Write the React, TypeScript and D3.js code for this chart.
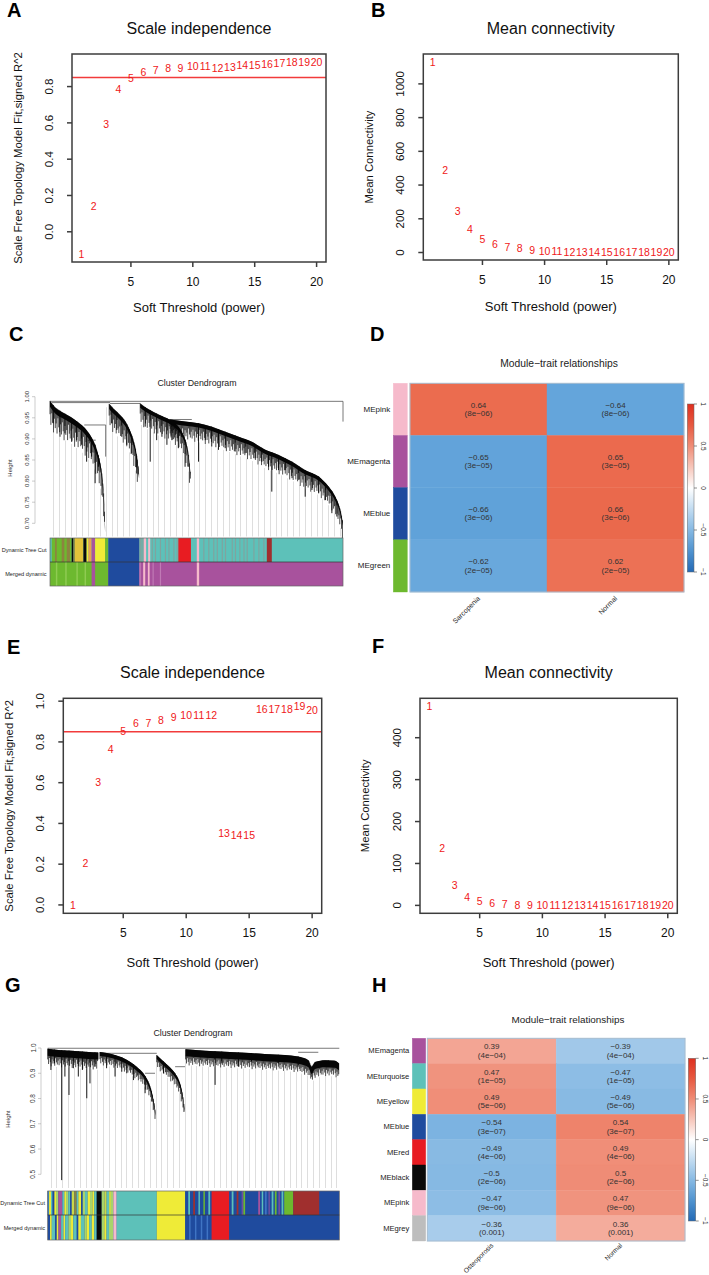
import React from 'react';
import * as d3 from 'd3';

const FONT = '"Liberation Sans", Arial, Helvetica, sans-serif';

// soft-threshold powers tested in both data sets
const powers = [1, 2, 3, 4, 5, 6, 7, 8, 9, 10, 11, 12, 13, 14, 15, 16, 17, 18, 19, 20];

// sarcopenia set
const fitSarco = [-0.124, 0.14, 0.593, 0.787, 0.848, 0.88, 0.89, 0.9, 0.904, 0.913, 0.913, 0.904, 0.91, 0.917, 0.92, 0.926, 0.93, 0.935, 0.937, 0.937];
const connSarco = [1132, 487, 246, 138, 83, 53, 35, 24, 16, 10, 7, 5, 4, 3, 2.5, 2, 1.5, 1.2, 1, 0.8];

// osteoporosis set
const fitOsteo = [-0.002, 0.206, 0.605, 0.765, 0.856, 0.892, 0.895, 0.908, 0.92, 0.93, 0.93, 0.93, 0.351, 0.343, 0.343, 0.96, 0.96, 0.963, 0.975, 0.958];
const connOsteo = [475, 137, 49, 20, 9.6, 5, 3, 2, 1.2, 0.9, 0.7, 0.5, 0.4, 0.35, 0.3, 0.25, 0.2, 0.18, 0.15, 0.12];

const xTicks = [5, 10, 15, 20];
const fitTicksA = [0, 0.2, 0.4, 0.6, 0.8];
const connTicksB = [0, 200, 400, 600, 800, 1000];
const fitTicksE = [0, 0.2, 0.4, 0.6, 0.8, 1.0];
const connTicksF = [0, 100, 200, 300, 400];
const fitCut = 0.85;

const COL: Record<string, string> = {
  turquoise: '#5DC1B9', blue: '#1F4B9E', green: '#6DB92F', yellow: '#EFEB37', gold: '#E3C43A',
  red: '#E81C22', brown: '#A02F2E', pink: '#F6BACB', magenta: '#A8529D', black: '#0A0A0A',
  grey: '#BDBDBD', olive: '#8C8440', orange: '#E9A050', lightgreen: '#A8D46C', lime: '#C9D84A',
  tealgrey: '#7FA49F', bluegreen: '#3E80B3', lightblue: '#3F74C4', purple: '#6F4FA0',
  paleMagenta: '#C07AB5', paleGreen: '#8FCB52',
};

// dendrogram C: spines are [leaf %, height] ; hairs are [leaf %, bottom height]
const dendroSarco = [
  { pts: [[0, 0.99], [1.7, 0.975], [4.0, 0.964], [6.8, 0.953], [9.7, 0.939], [11.7, 0.927], [13.7, 0.909], [15.4, 0.886], [16.8, 0.854], [17.7, 0.818], [18.4, 0.763], [18.8, 0.692]],
    depth: 0.014, fringe: 0.05,
    hairs: [[1.1, 0.937], [3.4, 0.905], [5.1, 0.913], [7.4, 0.893], [9.1, 0.897], [10.8, 0.886], [12.5, 0.846], [14.2, 0.858], [15.4, 0.795], [16.5, 0.834]] },
  { pts: [[20.2, 0.983], [21.6, 0.972], [23.3, 0.961], [25.4, 0.945], [27.0, 0.925], [28.3, 0.901], [29.3, 0.874], [29.9, 0.846], [30.4, 0.818]],
    depth: 0.012, fringe: 0.045,
    hairs: [[21.1, 0.937], [22.8, 0.921], [24.5, 0.905], [26.2, 0.886], [27.9, 0.866], [29.6, 0.818]] },
  { pts: [[30.8, 0.984], [32.5, 0.975], [35.3, 0.964], [38.2, 0.954], [41.0, 0.945], [43.3, 0.933], [45.0, 0.917], [46.4, 0.893], [47.3, 0.862], [47.9, 0.822]],
    depth: 0.01, fringe: 0.04,
    hairs: [[32.5, 0.929], [34.2, 0.846], [36.4, 0.897], [38.2, 0.905], [39.9, 0.886], [41.6, 0.897], [43.8, 0.878], [46.1, 0.834]] },
  { pts: [[41.0, 0.946], [46.1, 0.941], [50.7, 0.937], [55.2, 0.929], [59.8, 0.917], [64.4, 0.905], [68.9, 0.893], [73.5, 0.874], [78.0, 0.862], [82.6, 0.846], [87.1, 0.826], [91.7, 0.811], [95.1, 0.787], [97.4, 0.763], [99.1, 0.732], [99.9, 0.704]],
    depth: 0.01, fringe: 0.035,
    hairs: [[50.7, 0.846], [53.0, 0.897], [55.2, 0.882], [57.5, 0.874], [59.8, 0.878], [63.2, 0.87], [66.6, 0.866], [70.0, 0.854], [72.3, 0.846], [74.6, 0.834], [75.7, 0.775], [78.0, 0.826], [80.3, 0.826], [82.6, 0.807], [84.9, 0.803], [87.1, 0.763], [89.4, 0.779], [91.7, 0.771], [94.0, 0.755], [96.2, 0.724], [97.9, 0.716]] },
];
// merges: [from %, to %, height, left leg bottom, right leg bottom]
const linksSarco = [[0, 100, 0.989, null, 0.941], [0.6, 20.5, 0.986], [20.5, 30.8, 0.984], [40.4, 48.4, 0.946], [11.7, 19.0, 0.933, null, 0.858], [12.9, 15.6, 0.897]];

const dendroOsteo = [
  { pts: [[0, 0.997], [3.7, 0.992], [8.2, 0.989], [12.8, 0.985], [17.4, 0.982]],
    depth: 0.028, fringe: 0.04,
    hairs: [[1.1, 0.913], [2.3, 0.939], [4.8, 0.477], [5.9, 0.887], [7.3, 0.814], [8.8, 0.92], [10.5, 0.887], [11.9, 0.913], [13.4, 0.801], [14.5, 0.86], [16.2, 0.926]] },
  { pts: [[17.9, 0.984], [21.9, 0.976], [25.4, 0.963], [28.2, 0.946], [30.5, 0.926], [32.8, 0.9], [34.5, 0.867], [35.7, 0.827], [36.5, 0.781], [36.9, 0.748]],
    depth: 0.016, fringe: 0.035,
    hairs: [[20.2, 0.92], [23.1, 0.887], [25.4, 0.906], [27.1, 0.9], [29.4, 0.873], [33.4, 0.821]] },
  { pts: [[37.4, 0.972], [39.1, 0.953], [41.4, 0.929], [43.7, 0.9], [45.4, 0.86], [46.3, 0.814], [46.9, 0.761]],
    depth: 0.016, fringe: 0.035,
    hairs: [[39.7, 0.9]] },
  { pts: [[47.3, 0.995], [54.0, 0.989], [60.8, 0.985], [67.7, 0.981], [74.5, 0.976], [81.4, 0.972], [85.9, 0.966], [89.4, 0.952], [90.5, 0.926], [91.7, 0.945], [95.1, 0.952], [98.5, 0.95], [99.9, 0.939]],
    depth: 0.028, fringe: 0.035,
    hairs: [[57.4, 0.854], [59.7, 0.939], [65.4, 0.926], [69.9, 0.946], [79.1, 0.939], [85.9, 0.926], [90.5, 0.9], [96.2, 0.926], [99.1, 0.933]] },
];
const linksOsteo = [[0, 100, 0.999], [17.9, 37.4, 0.979], [33.4, 36.8, 0.9], [43.7, 47.1, 0.926], [85.9, 92.8, 0.983]];

// lengths cycled along each spine for the leaf fringe
const fringeLen = [0.35, 0.8, 0.2, 0.6, 1.0, 0.3, 0.7, 0.45, 0.9, 0.15, 0.55, 0.75];

// module colour rows: [start %, end %, colour]
const treeCutSarco = [
  [0.6, 7.4, 'green'], [1.7, 2.3, 'olive'], [4.0, 4.9, 'olive'], [5.7, 6.8, 'olive'], [7.4, 8.0, 'black'], [8.0, 8.5, 'olive'],
  [8.5, 11.4, 'gold'], [11.4, 12.5, 'black'], [12.5, 13.1, 'yellow'], [13.1, 14.2, 'orange'], [14.2, 15.4, 'magenta'],
  [15.4, 18.8, 'yellow'], [18.8, 19.9, 'green'], [19.9, 30.5, 'blue'], [30.5, 31.3, 'tealgrey'], [31.5, 32.0, 'tealgrey'],
  [32.0, 32.8, 'pink'], [33.5, 34.2, 'pink'], [34.7, 35.1, 'tealgrey'], [35.8, 36.2, 'tealgrey'], [37.5, 37.9, 'tealgrey'],
  [39.2, 39.6, 'tealgrey'], [40.4, 40.8, 'tealgrey'], [42.1, 42.5, 'tealgrey'], [43.2, 43.6, 'tealgrey'],
  [43.8, 48.1, 'red'], [50.1, 50.9, 'pink'], [52.3, 52.7, 'tealgrey'], [54.0, 54.4, 'tealgrey'], [55.7, 56.1, 'tealgrey'],
  [56.9, 57.3, 'tealgrey'], [58.6, 59.0, 'tealgrey'], [59.7, 60.1, 'tealgrey'], [62.0, 62.4, 'tealgrey'], [63.1, 63.5, 'tealgrey'],
  [64.6, 65.0, 'tealgrey'], [66.0, 66.4, 'tealgrey'], [67.1, 67.5, 'tealgrey'], [69.4, 69.8, 'tealgrey'], [71.1, 71.5, 'tealgrey'],
  [72.8, 73.2, 'tealgrey'], [74.0, 75.7, 'brown'],
];
const mergedSarco = [
  [0, 14.2, 'green'], [2.0, 2.5, 'paleGreen'], [5.2, 5.7, 'paleGreen'], [9.0, 9.5, 'paleGreen'], [11.8, 12.3, 'paleGreen'],
  [15.4, 19.9, 'green'], [19.9, 30.5, 'blue'], [30.5, 31.0, 'paleMagenta'], [31.8, 32.5, 'pink'], [33.4, 34.0, 'pink'],
  [35.0, 35.4, 'paleMagenta'], [37.5, 37.9, 'paleMagenta'], [50.1, 50.9, 'pink'],
];
const treeCutOsteo = [
  [0, 0.46, 'bluegreen'], [0.46, 1.14, 'yellow'], [1.14, 1.6, 'turquoise'], [2.29, 2.86, 'yellow'], [2.86, 3.66, 'lightgreen'],
  [3.66, 5.03, 'magenta'], [5.03, 5.71, 'turquoise'], [5.71, 6.29, 'yellow'], [6.29, 7.09, 'lightgreen'], [7.09, 7.66, 'turquoise'],
  [8.23, 9.14, 'lime'], [9.14, 9.94, 'olive'], [9.94, 10.51, 'turquoise'], [10.51, 11.43, 'yellow'], [12.0, 12.8, 'lightgreen'],
  [12.8, 13.71, 'turquoise'], [13.71, 14.51, 'yellow'], [14.51, 15.31, 'lightgreen'], [15.31, 16.0, 'yellow'], [16.0, 16.8, 'turquoise'],
  [16.8, 18.51, 'black'], [18.51, 19.43, 'lightgreen'], [19.43, 20.23, 'lime'], [20.23, 21.03, 'turquoise'], [21.03, 21.71, 'lime'],
  [21.71, 22.51, 'lightgreen'], [22.51, 23.66, 'pink'], [23.66, 37.4, 'turquoise'], [37.4, 47.1, 'yellow'],
  [48.2, 48.8, 'turquoise'], [49.9, 50.5, 'brown'], [51.7, 52.2, 'turquoise'], [53.4, 53.9, 'green'], [55.1, 55.7, 'turquoise'],
  [56.2, 62.2, 'red'], [63.1, 63.7, 'turquoise'], [64.8, 65.4, 'brown'], [66.5, 67.1, 'purple'], [67.1, 67.7, 'green'],
  [72.2, 72.8, 'magenta'], [73.4, 73.9, 'turquoise'], [74.5, 75.1, 'lightblue'], [75.7, 76.2, 'purple'], [76.8, 77.4, 'turquoise'],
  [77.9, 78.5, 'green'], [79.1, 79.7, 'purple'], [80.2, 80.8, 'turquoise'], [81.1, 84.2, 'green'], [84.2, 93.1, 'brown'],
];
const mergedOsteo = [
  [0.8, 1.4, 'yellow'], [1.4, 2.5, 'turquoise'], [3.1, 3.7, 'yellow'], [3.7, 4.6, 'magenta'], [4.6, 5.4, 'turquoise'],
  [5.4, 6.0, 'yellow'], [6.0, 7.1, 'turquoise'], [7.1, 8.0, 'lightgreen'], [8.0, 8.8, 'yellow'], [8.8, 9.9, 'turquoise'],
  [10.5, 11.4, 'yellow'], [11.4, 12.6, 'turquoise'], [12.6, 13.4, 'lightgreen'], [13.4, 14.2, 'yellow'], [14.2, 15.1, 'turquoise'],
  [15.1, 16.0, 'yellow'], [16.0, 16.8, 'turquoise'], [16.8, 18.51, 'black'], [18.51, 19.4, 'lightgreen'], [19.4, 20.2, 'yellow'],
  [20.2, 21.0, 'turquoise'], [21.0, 22.51, 'lightgreen'], [22.51, 23.66, 'pink'], [23.66, 37.4, 'turquoise'], [37.4, 47.1, 'yellow'],
  [48.5, 49.0, 'lightblue'], [50.5, 51.0, 'lightblue'], [52.5, 53.0, 'lightblue'], [54.5, 55.0, 'lightblue'], [56.2, 62.2, 'red'],
];

// module–trait correlations
const modulesSarco = ['MEpink', 'MEmagenta', 'MEblue', 'MEgreen'];
const swatchSarco = ['pink', 'magenta', 'blue', 'green'];
const traitsSarco = ['Sarcopenia', 'Normal'];
const corSarco = [0.64, -0.65, -0.66, -0.62];
const pSarco = ['8e−06', '3e−05', '3e−06', '2e−05'];

const modulesOsteo = ['MEmagenta', 'MEturquoise', 'MEyellow', 'MEblue', 'MEred', 'MEblack', 'MEpink', 'MEgrey'];
const swatchOsteo = ['magenta', 'turquoise', 'yellow', 'blue', 'red', 'black', 'pink', 'grey'];
const traitsOsteo = ['Osteoporosis', 'Normal'];
const corOsteo = [0.39, 0.47, 0.49, -0.54, -0.49, -0.5, -0.47, -0.36];
const pOsteo = ['4e−04', '1e−05', '5e−06', '3e−07', '4e−06', '2e−06', '9e−06', '0.001'];

const barTicks = [1, 0.5, 0, -0.5, -1];

const corColor = d3.scaleLinear<string>()
  .domain([-1, -0.64, 0, 0.64, 1])
  .range(['#2369B5', '#64A5DB', '#FFFFFF', '#EB6C4F', '#DE2F1F']);

const fmtNum = (v: number) => String(v).replace('-', '−');

// R pads each axis 4% beyond the data
const pad = (v: number[]) => {
  const [a, b] = d3.extent(v) as [number, number];
  const p = (b - a) * 0.04;
  return [a - p, b + p];
};

function Scatter({ box, title, ylab, values, yTicks, yFmt, cut, xlabDy }: any) {
  const x = d3.scaleLinear().domain(pad(powers)).range([box.l, box.r]);
  const y = d3.scaleLinear().domain(pad(values)).range([box.b, box.t]);
  const cx = (box.l + box.r) / 2;
  const cy = (box.t + box.b) / 2;
  const ink = '#3C3C3C';
  const lw = 1.5;
  return (
    <g fontFamily={FONT}>
      <text x={cx} y={box.t - 26} fontSize={16} textAnchor="middle" dominantBaseline="central" fill="#111">{title}</text>
      {cut !== undefined && (
        <line x1={box.l} x2={box.r} y1={y(cut)} y2={y(cut)} stroke="#F23B3B" strokeWidth={1.4} />
      )}
      <rect x={box.l} y={box.t} width={box.r - box.l} height={box.b - box.t} fill="none" stroke={ink} strokeWidth={lw} />
      {xTicks.map(v => (
        <g key={v}>
          <line x1={x(v)} x2={x(v)} y1={box.b} y2={box.b + 5} stroke={ink} strokeWidth={lw} />
          <text x={x(v)} y={box.b + 20} fontSize={12} textAnchor="middle" dominantBaseline="central" fill="#111">{v}</text>
        </g>
      ))}
      {yTicks.map((v: number) => (
        <g key={v}>
          <line x1={box.l - 5} x2={box.l} y1={y(v)} y2={y(v)} stroke={ink} strokeWidth={lw} />
          <text x={box.l - 23} y={y(v)} fontSize={11.5} textAnchor="middle" dominantBaseline="central" fill="#111"
            transform={`rotate(-90, ${box.l - 23}, ${y(v)})`}>{yFmt(v)}</text>
        </g>
      ))}
      <text x={cx} y={box.b + xlabDy} fontSize={13} textAnchor="middle" dominantBaseline="central" fill="#111">Soft Threshold (power)</text>
      <text x={box.l - 54.5} y={cy} fontSize={11.3} textAnchor="middle" dominantBaseline="central" fill="#111"
        transform={`rotate(-90, ${box.l - 54.5}, ${cy})`}>{ylab}</text>
      {values.map((v: number, i: number) => (
        <text key={i} x={x(powers[i])} y={y(v)} fontSize={10.5} textAnchor="middle" dominantBaseline="central" fill="#F01818">{powers[i]}</text>
      ))}
    </g>
  );
}

function Dendrogram({ cfg }: any) {
  const fx = d3.scaleLinear().domain([0, 100]).range([cfg.left, cfg.right]);
  const hy = d3.scaleLinear().domain(cfg.hDomain).range(cfg.yRange);
  const itp = (s: any) => d3.scaleLinear().domain(s.pts.map((p: number[]) => p[0])).range(s.pts.map((p: number[]) => p[1])).clamp(true);
  const band = (s: any) => d3.area<number[]>()
    .x(d => fx(d[0]))
    .y0(d => hy(d[1]))
    .y1(d => hy(d[1] - s.depth))
    .curve(d3.curveMonotoneX)(s.pts) as string;

  let hairPath = '';
  let fringePath = '';
  cfg.spines.forEach((s: any) => {
    const f = itp(s);
    s.hairs.forEach(([p, hb]: number[]) => {
      hairPath += `M${fx(p)},${hy(f(p))}V${hy(hb)}`;
    });
    const f0 = s.pts[0][0];
    const f1 = s.pts[s.pts.length - 1][0];
    let i = 0;
    for (let p = f0; p <= f1; p += 0.3, i++) {
      const top = f(p);
      fringePath += `M${fx(p)},${hy(top)}V${hy(top - s.depth - fringeLen[i % fringeLen.length] * s.fringe)}`;
    }
  });

  let linkPath = '';
  cfg.links.forEach(([a, b, h, la, lb]: any[]) => {
    linkPath += `M${fx(a)},${hy(h)}H${fx(b)}`;
    if (la != null) linkPath += `M${fx(a)},${hy(h)}V${hy(la)}`;
    if (lb != null) linkPath += `M${fx(b)},${hy(h)}V${hy(lb)}`;
  });

  // guide lines hanging below the tree, one per 2% of leaves
  let guidePath = '';
  for (let g = 0; g < 50; g++) {
    const p = 1 + g * 2;
    let top = Infinity;
    cfg.spines.forEach((s: any) => {
      if (p >= s.pts[0][0] && p <= s.pts[s.pts.length - 1][0]) {
        top = Math.min(top, itp(s)(p) - s.depth - s.fringe);
      }
    });
    if (!isFinite(top)) top = cfg.guideTop;
    guidePath += `M${Math.round(fx(p)) + 0.5},${hy(top)}V${cfg.guideBottom}`;
  }

  const yMid = (cfg.yRange[0] + cfg.yRange[1]) / 2;
  const rowsY = [[cfg.barTop, cfg.barMid], [cfg.barMid, cfg.barBot]];

  return (
    <g fontFamily={FONT}>
      <text x={cfg.titleX} y={cfg.titleY} fontSize={8.8} textAnchor="middle" dominantBaseline="central" fill="#222">Cluster Dendrogram</text>
      <path d={guidePath} stroke="#D6D6D6" strokeWidth={0.8} fill="none" />
      <line x1={cfg.axisX} x2={cfg.axisX} y1={hy(cfg.ticks[0])} y2={hy(cfg.ticks[cfg.ticks.length - 1])} stroke="#999" strokeWidth={0.5} />
      {cfg.ticks.map((t: number) => (
        <g key={t}>
          <line x1={cfg.axisX - 3} x2={cfg.axisX} y1={hy(t)} y2={hy(t)} stroke="#999" strokeWidth={0.5} />
          <text x={cfg.axisX - 8} y={hy(t)} fontSize={cfg.tickSize} textAnchor="middle" dominantBaseline="central" fill="#333"
            transform={`rotate(-90, ${cfg.axisX - 8}, ${hy(t)})`}>{t.toFixed(cfg.digits)}</text>
        </g>
      ))}
      <text x={cfg.heightX} y={yMid + 8} fontSize={6} textAnchor="middle" dominantBaseline="central" fill="#333"
        transform={`rotate(-90, ${cfg.heightX}, ${yMid + 8})`}>Height</text>
      <path d={linkPath} stroke="#555" strokeWidth={0.8} fill="none" />
      <path d={fringePath} stroke="#000" strokeWidth={0.7} fill="none" />
      <path d={hairPath} stroke="#000" strokeWidth={0.9} fill="none" />
      {cfg.spines.map((s: any, i: number) => <path key={i} d={band(s)} fill="#050505" />)}
      {cfg.rows.map((row: any, ri: number) => (
        <g key={ri}>
          <rect x={cfg.left} y={rowsY[ri][0]} width={cfg.right - cfg.left} height={rowsY[ri][1] - rowsY[ri][0]} fill={COL[row.base]} />
          {row.segs.map(([a, b, c]: any[], si: number) => (
            <rect key={si} x={fx(a)} y={rowsY[ri][0]} width={fx(b) - fx(a)} height={rowsY[ri][1] - rowsY[ri][0]} fill={COL[c]} />
          ))}
          <text x={cfg.labelX} y={(rowsY[ri][0] + rowsY[ri][1]) / 2} fontSize={5.6} textAnchor="end" dominantBaseline="central" fill="#222">{row.label}</text>
        </g>
      ))}
      <rect x={cfg.left} y={cfg.barTop} width={cfg.right - cfg.left} height={cfg.barBot - cfg.barTop} fill="none" stroke="#666" strokeWidth={0.7} />
      <line x1={cfg.left} x2={cfg.right} y1={cfg.barMid} y2={cfg.barMid} stroke="#333" strokeWidth={0.7} />
    </g>
  );
}

function Heatmap({ cfg }: any) {
  const rows = d3.scaleBand().domain(cfg.modules).range([cfg.y0, cfg.y1]);
  const cols = d3.scaleBand().domain(cfg.traits).range([cfg.x0, cfg.x1]);
  const bar = d3.scaleLinear().domain([-1, 1]).range([cfg.barY1, cfg.barY0]);
  const gid = `grad-${cfg.id}`;
  const stops = [-1, -0.75, -0.5, -0.25, 0, 0.25, 0.5, 0.75, 1];
  return (
    <g fontFamily={FONT}>
      <defs>
        <linearGradient id={gid} x1="0" y1="1" x2="0" y2="0">
          {stops.map(v => <stop key={v} offset={`${(v + 1) * 50}%`} stopColor={corColor(v)} />)}
        </linearGradient>
      </defs>
      <text x={cfg.titleX} y={cfg.titleY} fontSize={cfg.titleSize} textAnchor="middle" dominantBaseline="central" fill="#222">Module−trait relationships</text>
      {cfg.modules.map((m: string, i: number) => {
        const y = rows(m) as number;
        const bw = rows.bandwidth();
        const vals = [cfg.cor[i], -cfg.cor[i]];
        return (
          <g key={m}>
            <rect x={cfg.sw0} y={y} width={cfg.sw1 - cfg.sw0} height={bw} fill={COL[cfg.swatch[i]]}
              stroke={COL[cfg.swatch[i]]} strokeWidth={0.4} />
            <text x={cfg.sw0 - 3} y={y + bw / 2} fontSize={cfg.rowSize} textAnchor="end" dominantBaseline="central" fill="#222">{m}</text>
            {cfg.traits.map((t: string, j: number) => {
              const x = cols(t) as number;
              const cx = x + cols.bandwidth() / 2;
              const c = corColor(vals[j]);
              return (
                <g key={t}>
                  <rect x={x} y={y} width={cols.bandwidth()} height={bw} fill={c} stroke={c} strokeWidth={0.4} />
                  <text x={cx} y={y + bw / 2 - 4.2} fontSize={8} textAnchor="middle" dominantBaseline="central" fill="#333">{fmtNum(vals[j])}</text>
                  <text x={cx} y={y + bw / 2 + 4.2} fontSize={8} textAnchor="middle" dominantBaseline="central" fill="#333">({cfg.p[i]})</text>
                </g>
              );
            })}
          </g>
        );
      })}
      <rect x={cfg.x0} y={cfg.y0} width={cfg.x1 - cfg.x0} height={cfg.y1 - cfg.y0} fill="none" stroke="#A8BDD0" strokeWidth={1} />
      {cfg.traits.map((t: string) => {
        const cx = (cols(t) as number) + cols.bandwidth() / 2 + 2;
        const y = cfg.y1 + cfg.colLabelDy;
        return (
          <text key={t} x={cx} y={y} fontSize={cfg.colSize} textAnchor="end" fill="#222" transform={`rotate(-45, ${cx}, ${y})`}>{t}</text>
        );
      })}
      <rect x={cfg.barX0} y={cfg.barY0} width={cfg.barX1 - cfg.barX0} height={cfg.barY1 - cfg.barY0} fill={`url(#${gid})`} stroke="#666" strokeWidth={0.5} />
      {barTicks.map(v => (
        <g key={v}>
          <line x1={cfg.barX1} x2={cfg.barX1 + 3} y1={bar(v)} y2={bar(v)} stroke="#444" strokeWidth={0.6} />
          <text x={cfg.barLabelX} y={bar(v)} fontSize={6.5} textAnchor="middle" dominantBaseline="central" fill="#222"
            transform={`rotate(90, ${cfg.barLabelX}, ${bar(v)})`}>{fmtNum(v)}</text>
        </g>
      ))}
    </g>
  );
}

const letters = [
  ['A', 7, 17], ['B', 371, 17], ['C', 9, 341], ['D', 370, 341],
  ['E', 7, 654], ['F', 372, 653], ['G', 5, 992], ['H', 372, 992],
];

export default function App() {
  const dendroC = {
    left: 50, right: 343, hDomain: [0.7, 1.0], yRange: [523.3, 396.7],
    spines: dendroSarco, links: linksSarco, guideTop: 0.975, guideBottom: 536.5,
    ticks: [0.7, 0.75, 0.8, 0.85, 0.9, 0.95, 1.0], digits: 2, tickSize: 6, axisX: 35, heightX: 10,
    titleX: 197, titleY: 383, barTop: 538, barMid: 562, barBot: 586, labelX: 46.5,
    rows: [
      { label: 'Dynamic Tree Cut', base: 'turquoise', segs: treeCutSarco },
      { label: 'Merged dynamic', base: 'magenta', segs: mergedSarco },
    ],
  };
  const dendroG = {
    left: 47.7, right: 339.3, hDomain: [0.5, 1.0], yRange: [1174.3, 1048],
    spines: dendroOsteo, links: linksOsteo, guideTop: 0.97, guideBottom: 1188,
    ticks: [0.5, 0.6, 0.7, 0.8, 0.9, 1.0], digits: 1, tickSize: 6.5, axisX: 41, heightX: 8,
    titleX: 193, titleY: 1033, barTop: 1191, barMid: 1215, barBot: 1240, labelX: 45,
    rows: [
      { label: 'Dynamic Tree Cut', base: 'blue', segs: treeCutOsteo },
      { label: 'Merged dynamic', base: 'blue', segs: mergedOsteo },
    ],
  };
  const heatD = {
    id: 'd', modules: modulesSarco, swatch: swatchSarco, traits: traitsSarco, cor: corSarco, p: pSarco,
    x0: 410, x1: 684, y0: 383.3, y1: 592, sw0: 393.3, sw1: 407.3,
    titleX: 559, titleY: 363, titleSize: 10.3, rowSize: 8, colLabelDy: 7, colSize: 7,
    barX0: 687.3, barX1: 694, barY0: 404, barY1: 572, barLabelX: 703,
  };
  const heatH = {
    id: 'h', modules: modulesOsteo, swatch: swatchOsteo, traits: traitsOsteo, cor: corOsteo, p: pOsteo,
    x0: 427.3, x1: 685, y0: 1038.3, y1: 1241, sw0: 412.3, sw1: 425.7,
    titleX: 568, titleY: 1019, titleSize: 9.9, rowSize: 7.6, colLabelDy: 5, colSize: 6.6,
    barX0: 688.3, barX1: 695.7, barY0: 1058.3, barY1: 1221, barLabelX: 705,
  };

  return (
    <svg width={709} height={1275} viewBox="0 0 709 1275"
      style={{ position: 'absolute', left: 0, top: 0, background: '#fff' }}>
      <rect width={709} height={1275} fill="#fff" />
      <Scatter box={{ l: 72, r: 326, t: 54, b: 262 }} title="Scale independence"
        ylab="Scale Free Topology Model Fit,signed R^2" values={fitSarco} yTicks={fitTicksA}
        yFmt={(v: number) => v.toFixed(1)} cut={fitCut} xlabDy={45} />
      <Scatter box={{ l: 423.3, r: 678.3, t: 54, b: 260 }} title="Mean connectivity"
        ylab="Mean Connectivity" values={connSarco} yTicks={connTicksB}
        yFmt={(v: number) => String(v)} xlabDy={46.5} />
      <Dendrogram cfg={dendroC} />
      <Heatmap cfg={heatD} />
      <Scatter box={{ l: 63.3, r: 321.7, t: 698.3, b: 913.3 }} title="Scale independence"
        ylab="Scale Free Topology Model Fit,signed R^2" values={fitOsteo} yTicks={fitTicksE}
        yFmt={(v: number) => v.toFixed(1)} cut={fitCut} xlabDy={49} />
      <Scatter box={{ l: 420, r: 677.3, t: 698.3, b: 913.3 }} title="Mean connectivity"
        ylab="Mean Connectivity" values={connOsteo} yTicks={connTicksF}
        yFmt={(v: number) => String(v)} xlabDy={49} />
      <Dendrogram cfg={dendroG} />
      <Heatmap cfg={heatH} />
      {letters.map(([t, x, y]) => (
        <text key={t as string} x={x as number} y={y as number} fontFamily={FONT} fontSize={20} fontWeight="bold" fill="#000">{t}</text>
      ))}
    </svg>
  );
}
